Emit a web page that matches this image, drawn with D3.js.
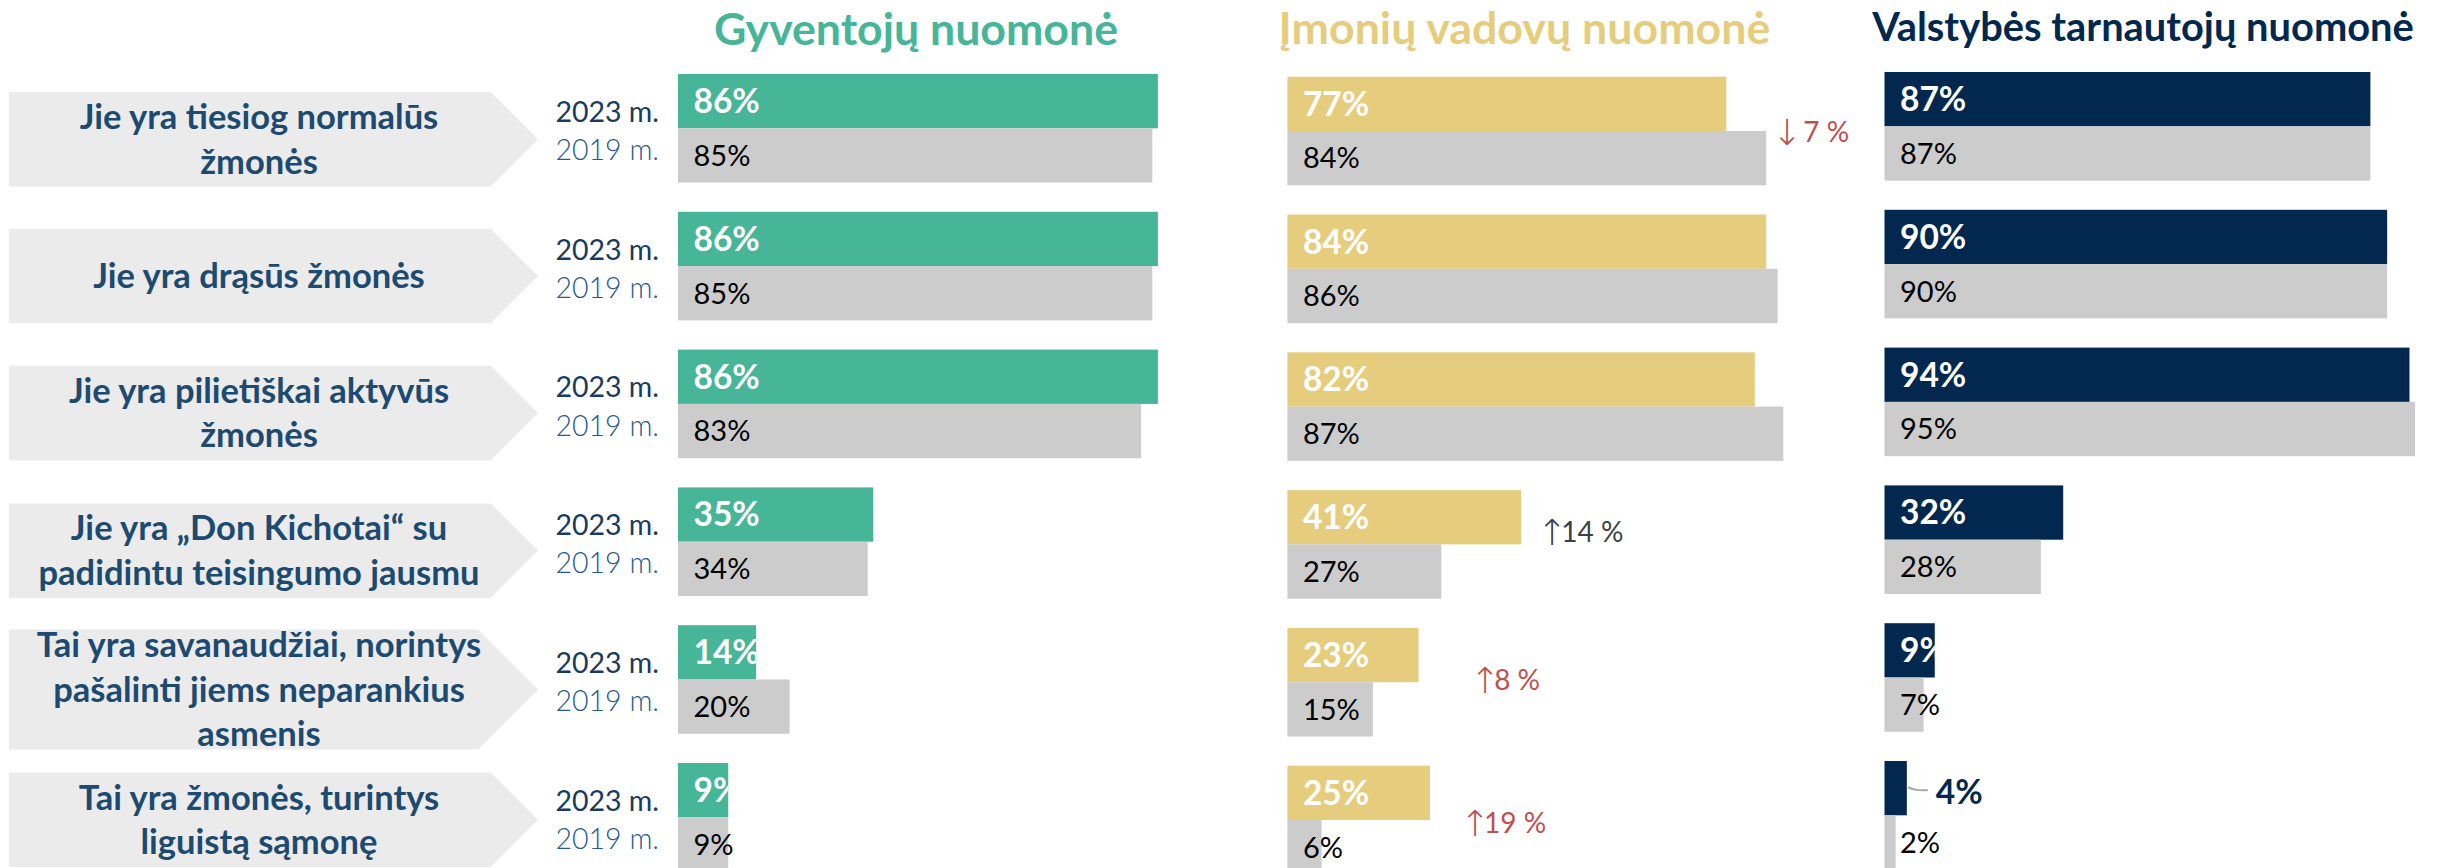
<!DOCTYPE html>
<html>
<head>
<meta charset="utf-8">
<script src="https://cdn.jsdelivr.net/npm/d3@7"></script>
<style>
  html, body { margin: 0; padding: 0; background: #ffffff; }
  svg { display: block; }
  text { font-family: Lato, "Open Sans", "Noto Sans", sans-serif; }
</style>
</head>
<body>
<svg id="chart" width="2445" height="868"></svg>
<script>
// ---- data ----
const statements = [
  ["Jie yra tiesiog normalūs", "žmonės"],
  ["Jie yra drąsūs žmonės"],
  ["Jie yra pilietiškai aktyvūs", "žmonės"],
  ["Jie yra „Don Kichotai“ su", "padidintu teisingumo jausmu"],
  ["Tai yra savanaudžiai, norintys", "pašalinti jiems neparankius", "asmenis"],
  ["Tai yra žmonės, turintys", "liguistą sąmonę"]
];
const years = ["2023 m.", "2019 m."];
const groups = ["Gyventojų nuomonė", "Įmonių vadovų nuomonė", "Valstybės tarnautojų nuomonė"];

const residents2023 = [86, 86, 86, 35, 14, 9];
const residents2019 = [85, 85, 83, 34, 20, 9];
const managers2023  = [77, 84, 82, 41, 23, 25];
const managers2019  = [84, 86, 87, 27, 15, 6];
const servants2023  = [87, 90, 94, 32, 9, 4];
const servants2019  = [87, 90, 95, 28, 7, 2];

// change notes shown next to the managers' bars
const changeRows   = [0, 3, 4, 5];
const changeLabels = ["↓ 7 %", "↑14 %", "↑8 %", "↑19 %"];

// ---- layout ----
const svg = d3.select("#chart");
const defs = svg.append("defs");

const grey = "#CCCCCC";
const labelBlue = "#1C4A70";

const rowBand = d3.scaleBand()
  .domain(d3.range(statements.length))
  .range([74, 871.6])
  .paddingInner(0.212)
  .paddingOuter(0);
const yearBand = d3.scaleBand().domain(years).range([0, rowBand.bandwidth()]);

const panels = [
  { title: groups[0], v23: residents2023, v19: residents2019, color: "#47B598",
    x0: 678, pxPerPct: 5.58, dy: 0, titleCx: 916, titleY: 45, titleW: 404 },
  { title: groups[1], v23: managers2023, v19: managers2019, color: "#E6CD7E",
    x0: 1287.4, pxPerPct: 5.70, dy: 2.7, titleCx: 1524.5, titleY: 44, titleW: 492 },
  { title: groups[2], v23: servants2023, v19: servants2019, color: "#03284F",
    x0: 1884.5, pxPerPct: 5.585, dy: -2, titleCx: 2143, titleY: 41, titleW: 542 }
];

// size a bold title so it spans the given width
function fitText(sel, target, start) {
  sel.style("font-size", start + "px");
  const w = sel.node().getComputedTextLength();
  sel.style("font-size", (start * target / w).toFixed(2) + "px");
}

// ---- statement arrows on the left ----
const boxShift = [11, 10, 9, 9, 10, 2.5];
const tipX = 538, boxLeft = 9;
const lineGap = 44.5;
const labelFont = 34.5;

statements.forEach((lines, i) => {
  const c = rowBand(i) + rowBand.bandwidth() / 2 + boxShift[i];
  const h = lines.length > 2 ? 120 : 94.5;
  const pts = [
    [boxLeft, c - h / 2], [tipX - h / 2, c - h / 2], [tipX, c],
    [tipX - h / 2, c + h / 2], [boxLeft, c + h / 2]
  ];
  svg.append("path")
    .attr("d", d3.line()(pts) + "Z")
    .attr("fill", "#EBEBEB");

  const t = svg.append("text")
    .attr("text-anchor", "middle")
    .attr("fill", labelBlue)
    .style("font-weight", 700)
    .style("font-size", labelFont + "px");
  const first = c + 12 - (lines.length - 1) * lineGap / 2;
  lines.forEach((ln, k) => {
    t.append("tspan").attr("x", 259).attr("y", first + k * lineGap).text(ln);
  });

  // year captions
  svg.append("text")
    .attr("x", 659).attr("y", rowBand(i) + 47.7)
    .attr("text-anchor", "end")
    .attr("fill", "#1A3A5E")
    .style("font-size", "28.5px")
    .text(years[0]);
  svg.append("text")
    .attr("x", 659).attr("y", rowBand(i) + 86)
    .attr("text-anchor", "end")
    .attr("fill", "#28598A")
    .style("font-size", "28.5px")
    .style("font-weight", 300)
    .text(years[1]);
});

// ---- bar panels ----
panels.forEach((p, pi) => {
  const x = d3.scaleLinear().domain([0, 100]).range([p.x0, p.x0 + 100 * p.pxPerPct]);

  const title = svg.append("text")
    .attr("x", p.titleCx).attr("y", p.titleY)
    .attr("text-anchor", "middle")
    .attr("fill", p.color)
    .style("font-weight", 700)
    .text(p.title);
  fitText(title, p.titleW, 42);

  const g = svg.append("g");
  statements.forEach((_, i) => {
    const top = rowBand(i) + p.dy;
    const rows = [
      { year: years[0], v: p.v23[i], fill: p.color },
      { year: years[1], v: p.v19[i], fill: grey }
    ];
    rows.forEach((r, j) => {
      const y = top + yearBand(r.year);
      const w = x(r.v) - x(0);
      g.append("rect")
        .attr("x", x(0)).attr("y", y)
        .attr("width", w).attr("height", yearBand.bandwidth())
        .attr("fill", r.fill);

      if (j === 0) {
        if (w >= 30) {
          const id = `clip-${pi}-${i}`;
          defs.append("clipPath").attr("id", id)
            .append("rect")
            .attr("x", x(0)).attr("y", y)
            .attr("width", w).attr("height", yearBand.bandwidth());
          g.append("text")
            .attr("x", x(0) + 15.5).attr("y", y + 39)
            .attr("clip-path", `url(#${id})`)
            .attr("fill", "#FFFFFF")
            .style("font-weight", 700)
            .style("font-size", "33.5px")
            .text(r.v + "%");
        } else {
          // narrow bar: value sits outside with a short leader
          const lx = x(r.v) + 29, ly = y + 43;
          g.append("path")
            .attr("d", `M${x(r.v) + 1},${ly - 17} Q${x(r.v) + 8},${ly - 13} ${x(r.v) + 21},${ly - 14}`)
            .attr("fill", "none")
            .attr("stroke", "#A6A6A6")
            .attr("stroke-width", 2);
          g.append("text")
            .attr("x", lx).attr("y", ly)
            .attr("fill", p.color)
            .style("font-weight", 700)
            .style("font-size", "33.5px")
            .text(r.v + "%");
        }
      } else {
        g.append("text")
          .attr("x", x(0) + 15.5).attr("y", y + 37.5)
          .attr("fill", "#000000")
          .style("font-size", "29px")
          .text(r.v + "%");
      }
    });
  });

  // change notes for the managers' panel
  if (pi === 1) {
    const notePos = [
      { dx: 5.8, dy: 65.7, color: "#C0504D" },
      { dx: 16, dy: 51.5, color: "#404040" },
      { dx: 51.5, dy: 62, color: "#C0504D" },
      { dx: 30, dy: 67, color: "#C0504D" }
    ];
    changeRows.forEach((ri, k) => {
      const end = x(Math.max(p.v23[ri], p.v19[ri]));
      const label = changeLabels[k];
      const t = svg.append("text")
        .attr("x", end + notePos[k].dx)
        .attr("y", rowBand(ri) + p.dy + notePos[k].dy)
        .attr("fill", notePos[k].color)
        .style("font-size", "28px");
      t.append("tspan")
        .style("font-family", "'DejaVu Sans', sans-serif")
        .style("font-weight", 200)
        .style("font-size", "36px")
        .style("letter-spacing", "-6px")
        .attr("dy", 3)
        .text(label.slice(0, 1));
      t.append("tspan").attr("dy", -3).text(label.slice(1));
    });
  }
});
</script>
</body>
</html>
